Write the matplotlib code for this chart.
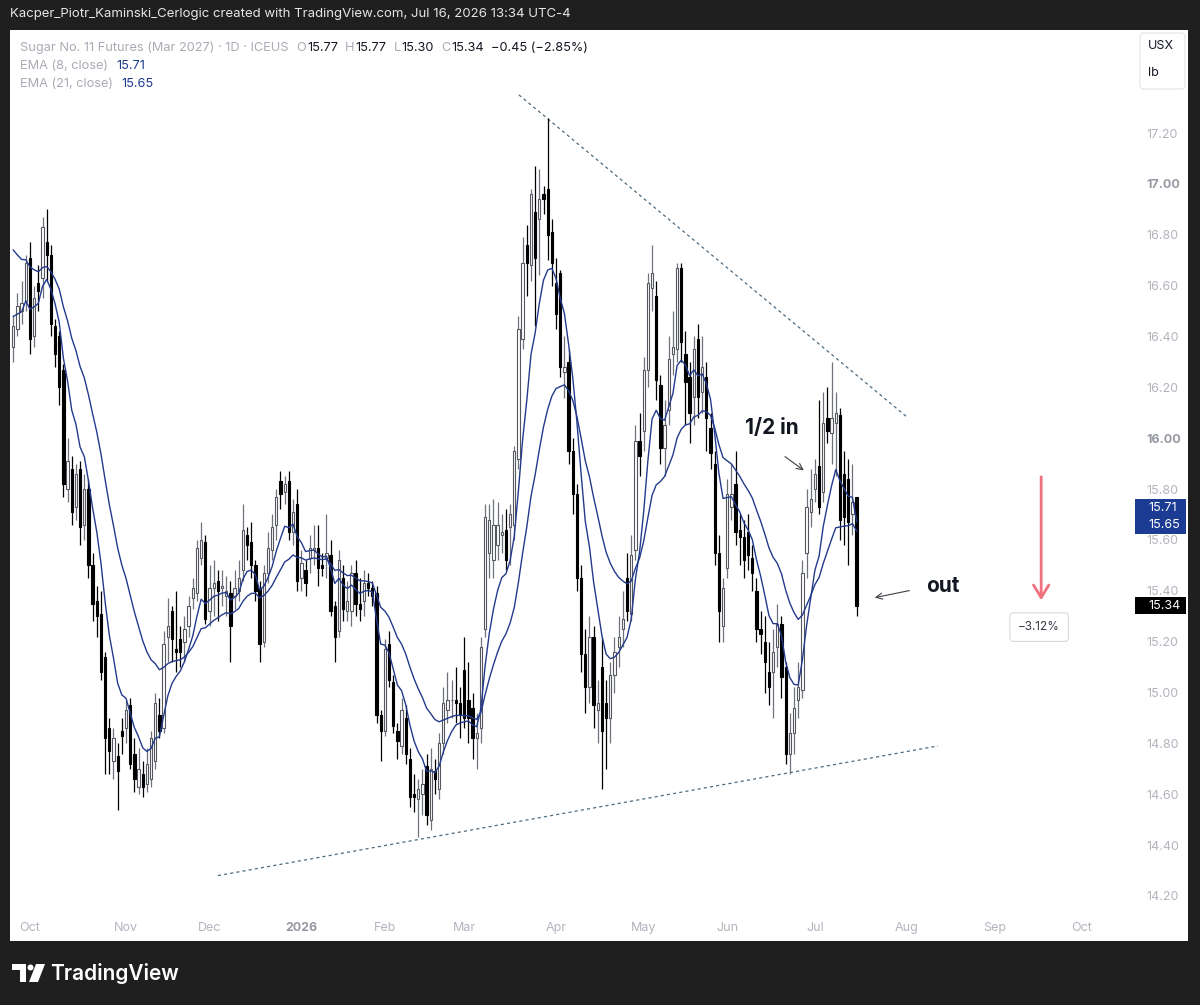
import numpy as np
import matplotlib
matplotlib.use("Agg")
import matplotlib.pyplot as plt
from matplotlib.patches import Rectangle, FancyBboxPatch, Polygon, Circle

plt.rcParams['font.family'] = ['Inter', 'DejaVu Sans']

W, H = 1200, 1005

# velas diarias, una por sesion (barra 0 = finales de sep 2025, ultima = 16 jul 2026)
opens = [
    16.36, 16.43, 16.50, 16.54, 16.71, 16.40, 16.61, 16.63, 16.77, 16.72,
    16.44, 16.40, 16.27, 15.80, 15.88, 15.73, 15.88, 15.66, 15.80, 15.50,
    15.36, 15.31, 15.14, 14.86, 14.73, 14.75, 14.85, 14.86, 14.95, 14.76,
    14.63, 14.68, 14.64, 14.66, 14.73, 14.91, 14.86, 15.22, 15.32, 15.17,
    15.21, 15.20, 15.26, 15.37, 15.39, 15.53, 15.59, 15.32, 15.41, 15.44,
    15.41, 15.38, 15.39, 15.38, 15.40, 15.48, 15.62, 15.59, 15.50, 15.41,
    15.20, 15.47, 15.56, 15.66, 15.83, 15.79, 15.83, 15.63, 15.74, 15.45,
    15.48, 15.53, 15.56, 15.57, 15.50, 15.53, 15.54, 15.34, 15.24, 15.45,
    15.32, 15.32, 15.47, 15.35, 15.36, 15.43, 15.41, 15.39, 14.91, 14.85,
    15.19, 15.04, 14.85, 14.79, 14.90, 14.74, 14.60, 14.58, 14.60, 14.71,
    14.50, 14.69, 14.62, 14.80, 14.93, 14.97, 14.97, 14.96, 15.09, 14.97,
    14.94, 14.82, 14.86, 15.25, 15.55, 15.52, 15.58, 15.62, 15.64, 15.65,
    15.66, 15.92, 16.39, 16.76, 16.68, 16.89, 16.86, 16.96, 16.98, 16.81,
    16.61, 16.65, 16.26, 16.30, 15.95, 15.78, 15.45, 15.15, 15.02, 15.22,
    14.93, 15.10, 14.96, 14.90, 15.07, 15.18, 15.25, 15.45, 15.31, 15.56,
    15.99, 16.03, 16.27, 16.59, 16.56, 16.21, 15.96, 16.11, 16.33, 16.35,
    16.67, 16.33, 16.24, 16.16, 16.39, 16.18, 16.24, 16.04, 15.90, 15.55,
    15.26, 15.49, 15.73, 15.82, 15.64, 15.61, 15.63, 15.53, 15.40, 15.25,
    15.20, 15.08, 15.08, 15.18, 15.27, 15.10, 14.76, 14.84, 14.97, 15.01,
    15.55, 15.71, 15.80, 15.89, 15.79, 16.08, 16.02, 16.06, 16.09, 15.86,
    15.84, 15.70, 15.77,
]
highs = [
    16.48, 16.57, 16.62, 16.72, 16.77, 16.60, 16.68, 16.87, 16.90, 16.76,
    16.47, 16.42, 16.29, 16.00, 15.93, 15.90, 15.91, 15.86, 15.84, 15.55,
    15.42, 15.40, 15.16, 14.90, 14.86, 14.80, 14.90, 14.97, 14.98, 14.82,
    14.78, 14.73, 14.78, 14.85, 15.00, 14.98, 15.24, 15.37, 15.34, 15.40,
    15.26, 15.30, 15.38, 15.45, 15.60, 15.67, 15.62, 15.50, 15.52, 15.48,
    15.48, 15.46, 15.44, 15.48, 15.52, 15.74, 15.65, 15.67, 15.52, 15.44,
    15.50, 15.63, 15.70, 15.80, 15.87, 15.85, 15.87, 15.76, 15.80, 15.56,
    15.52, 15.62, 15.66, 15.66, 15.55, 15.70, 15.60, 15.36, 15.56, 15.50,
    15.44, 15.50, 15.52, 15.45, 15.48, 15.47, 15.44, 15.42, 14.93, 15.21,
    15.24, 15.07, 14.88, 14.98, 14.95, 14.78, 14.68, 14.66, 14.70, 14.76,
    14.78, 14.74, 14.84, 15.02, 15.08, 15.05, 15.10, 15.02, 15.22, 15.12,
    15.00, 14.92, 15.22, 15.74, 15.74, 15.76, 15.75, 15.70, 15.72, 15.74,
    15.97, 16.48, 16.79, 16.84, 16.98, 17.07, 17.06, 16.99, 17.26, 16.86,
    16.71, 16.66, 16.40, 16.35, 16.00, 15.82, 15.50, 15.25, 15.30, 15.26,
    15.05, 15.22, 15.05, 15.12, 15.22, 15.30, 15.40, 15.55, 15.62, 16.05,
    16.10, 16.32, 16.65, 16.76, 16.62, 16.25, 16.15, 16.40, 16.50, 16.69,
    16.69, 16.42, 16.30, 16.40, 16.45, 16.40, 16.30, 16.10, 15.95, 15.62,
    15.45, 15.84, 15.90, 15.95, 15.70, 15.68, 15.70, 15.58, 15.45, 15.32,
    15.30, 15.20, 15.25, 15.35, 15.30, 15.12, 14.92, 15.02, 15.12, 15.52,
    15.80, 15.88, 15.92, 16.15, 16.18, 16.20, 16.30, 16.18, 16.12, 15.95,
    15.92, 15.90, 15.77,
]
lows = [
    16.30, 16.40, 16.45, 16.50, 16.33, 16.36, 16.50, 16.55, 16.62, 16.40,
    16.28, 16.13, 15.77, 15.75, 15.66, 15.68, 15.58, 15.60, 15.45, 15.28,
    15.22, 15.05, 14.68, 14.68, 14.66, 14.54, 14.76, 14.80, 14.70, 14.61,
    14.60, 14.59, 14.61, 14.63, 14.70, 14.82, 14.84, 15.12, 15.12, 15.08,
    15.10, 15.12, 15.22, 15.33, 15.36, 15.50, 15.27, 15.26, 15.30, 15.28,
    15.34, 15.30, 15.12, 15.33, 15.36, 15.44, 15.52, 15.45, 15.36, 15.12,
    15.18, 15.43, 15.52, 15.60, 15.72, 15.74, 15.60, 15.58, 15.40, 15.40,
    15.38, 15.47, 15.50, 15.42, 15.46, 15.45, 15.30, 15.12, 15.22, 15.28,
    15.28, 15.26, 15.30, 15.28, 15.30, 15.38, 15.34, 14.88, 14.73, 14.83,
    15.02, 14.84, 14.74, 14.76, 14.72, 14.55, 14.53, 14.43, 14.52, 14.48,
    14.46, 14.60, 14.58, 14.76, 14.88, 14.90, 14.88, 14.82, 14.86, 14.80,
    14.74, 14.70, 14.80, 15.22, 15.45, 15.45, 15.52, 15.55, 15.48, 15.50,
    15.60, 15.88, 16.35, 16.56, 16.62, 16.44, 16.64, 16.88, 16.70, 16.60,
    16.43, 16.24, 16.16, 15.90, 15.70, 15.40, 15.08, 14.92, 14.96, 14.86,
    14.80, 14.62, 14.70, 14.80, 15.00, 15.10, 15.18, 15.28, 15.28, 15.52,
    15.85, 15.95, 16.20, 16.50, 16.15, 15.90, 15.85, 16.05, 16.25, 16.30,
    16.30, 16.05, 15.98, 16.05, 16.08, 16.10, 15.95, 15.88, 15.50, 15.20,
    15.20, 15.45, 15.68, 15.58, 15.50, 15.45, 15.48, 15.40, 15.20, 15.15,
    15.00, 14.95, 14.90, 15.10, 14.98, 14.72, 14.68, 14.76, 14.90, 14.98,
    15.45, 15.65, 15.75, 15.70, 15.75, 15.98, 15.90, 15.85, 15.60, 15.58,
    15.50, 15.62, 15.30,
]
closes = [
    16.44, 16.52, 16.53, 16.69, 16.39, 16.55, 16.58, 16.83, 16.72, 16.45,
    16.33, 16.20, 15.82, 15.91, 15.71, 15.86, 15.65, 15.80, 15.50, 15.35,
    15.30, 15.08, 14.82, 14.77, 14.82, 14.69, 14.83, 14.93, 14.72, 14.66,
    14.70, 14.63, 14.72, 14.82, 14.96, 14.85, 15.19, 15.26, 15.21, 15.16,
    15.16, 15.25, 15.34, 15.41, 15.57, 15.60, 15.29, 15.41, 15.43, 15.40,
    15.42, 15.40, 15.26, 15.41, 15.45, 15.64, 15.58, 15.50, 15.40, 15.19,
    15.47, 15.57, 15.65, 15.77, 15.78, 15.82, 15.63, 15.71, 15.44, 15.51,
    15.43, 15.57, 15.57, 15.49, 15.49, 15.55, 15.32, 15.22, 15.52, 15.33,
    15.36, 15.47, 15.35, 15.33, 15.43, 15.41, 15.38, 14.91, 14.85, 15.17,
    15.05, 14.87, 14.81, 14.93, 14.76, 14.59, 14.59, 14.62, 14.64, 14.52,
    14.70, 14.66, 14.80, 14.96, 14.97, 14.97, 14.96, 14.91, 14.90, 14.90,
    14.82, 14.84, 15.18, 15.69, 15.68, 15.66, 15.66, 15.63, 15.52, 15.70,
    15.95, 16.43, 16.69, 16.69, 16.96, 16.71, 16.94, 16.94, 16.80, 16.69,
    16.49, 16.28, 16.28, 15.95, 15.78, 15.45, 15.15, 15.02, 15.22, 14.95,
    14.96, 14.85, 14.90, 15.07, 15.16, 15.22, 15.29, 15.32, 15.54, 15.99,
    15.93, 16.27, 16.61, 16.65, 16.23, 15.96, 16.05, 16.31, 16.36, 16.67,
    16.38, 16.22, 16.10, 16.35, 16.16, 16.28, 16.08, 15.94, 15.55, 15.32,
    15.41, 15.78, 15.78, 15.63, 15.61, 15.52, 15.54, 15.47, 15.25, 15.23,
    15.12, 15.02, 15.16, 15.27, 15.06, 14.76, 14.84, 14.94, 15.02, 15.47,
    15.73, 15.76, 15.86, 15.73, 16.06, 16.03, 16.08, 16.10, 15.68, 15.69,
    15.67, 15.75, 15.34,
]

# valor de las EMA justo antes de la primera barra visible
ema8_seed = 16.49
ema21_seed = 16.77

month_bars = [4, 27, 47, 69, 89, 108, 130, 151, 171, 192, 214, 235, 256]
month_labels = ["Oct", "Nov", "Dec", "2026", "Feb", "Mar", "Apr", "May", "Jun", "Jul", "Aug", "Sep", "Oct"]
price_ticks = [14.20, 14.40, 14.60, 14.80, 15.00, 15.20, 15.40, 15.60, 15.80,
               16.00, 16.20, 16.40, 16.60, 16.80, 17.00, 17.20]

# lineas de tendencia dibujadas a mano (barra, precio)
res_x = [121.1, 214.3]
res_y = [17.35, 16.08]
sup_x = [49.0, 221.5]
sup_y = [14.28, 14.79]


def ema(values, span, seed):
    alpha = 2 / (span + 1)
    out = []
    prev = seed
    for v in values:
        prev = prev + alpha * (v - prev)
        out.append(prev)
    return np.array(out)


o = np.array(opens)
h = np.array(highs)
l = np.array(lows)
c = np.array(closes)
x = np.arange(len(c))
up = c >= o

fig = plt.figure(figsize=(W / 100, H / 100), dpi=100)
fig.patch.set_facecolor('#1f1f1f')

bg = fig.add_axes([0, 0, 1, 1], zorder=0)
bg.set_xlim(0, W)
bg.set_ylim(H, 0)
bg.axis('off')
bg.add_patch(Rectangle((10, 30), 1178, 911, fc='white', ec='none'))

ax = fig.add_axes([10 / W, 1 - 912 / H, 1118 / W, 882 / H], zorder=1)
ax.set_facecolor('none')
ax.set_xlim(-0.79, 267.0)
ax.set_ylim(14.137, 17.605)
for s in ax.spines.values():
    s.set_visible(False)

# velas
ax.vlines(x[up], l[up], h[up], color='#6f727b', lw=0.9, zorder=2)
ax.vlines(x[~up], l[~up], h[~up], color='#000000', lw=0.9, zorder=2)
ax.bar(x[up], c[up] - o[up], bottom=o[up], width=0.55, facecolor='white',
       edgecolor='#555861', lw=0.8, zorder=3)
ax.bar(x[~up], o[~up] - c[~up], bottom=c[~up], width=0.55, facecolor='black',
       edgecolor='black', lw=0.8, zorder=3)

ax.plot(x, ema(closes, 21, ema21_seed), color='#233a8c', lw=1.0, zorder=4)
ax.plot(x, ema(closes, 8, ema8_seed), color='#233a8c', lw=1.0, zorder=4)

ax.plot(res_x, res_y, color='#4d6b80', lw=0.9, ls=(0, (2.5, 2.5)), zorder=1)
ax.plot(sup_x, sup_y, color='#4d6b80', lw=0.9, ls=(0, (2.5, 2.5)), zorder=1)

# ejes
ax.yaxis.tick_right()
ax.set_yticks(price_ticks)
ax.set_yticklabels([f"{p:.2f}" for p in price_ticks])
ax.tick_params(axis='y', length=0, pad=13.5, labelsize=9, labelcolor='#b2b5be')
ax.set_xticks(month_bars)
ax.set_xticklabels(month_labels)
ax.tick_params(axis='x', length=0, pad=7, labelsize=9, labelcolor='#b2b5be')
for lab in ax.get_yticklabels():
    if lab.get_text() in ("16.00", "17.00"):
        lab.set_fontweight('bold')
        lab.set_color('#9598a1')
for lab in ax.get_xticklabels():
    if lab.get_text() == "2026":
        lab.set_fontweight('bold')
        lab.set_color('#9598a1')

# anotaciones
ax.text(181.7, 16.04, "1/2 in", fontsize=15, fontweight='bold', color='#131722',
        ha='center', va='center', zorder=5)
ax.annotate("", xy=(189.9, 15.867), xytext=(184.3, 15.934),
            arrowprops=dict(arrowstyle='->,head_length=0.45,head_width=0.22', color='#3c3f46', lw=0.8))
ax.text(222.7, 15.42, "out", fontsize=15, fontweight='bold', color='#131722',
        ha='center', va='center', zorder=5)
ax.annotate("", xy=(205.7, 15.371), xytext=(215.3, 15.403),
            arrowprops=dict(arrowstyle='->,head_length=0.45,head_width=0.22', color='#3c3f46', lw=0.8))
ax.annotate("", xy=(246.2, 15.352), xytext=(246.2, 15.859),
            arrowprops=dict(arrowstyle='->,head_length=0.9,head_width=0.55', color='#f0707f', lw=2.0))
ax.text(245.7, 15.257, "\u22123.12%", fontsize=8.5, color='#363a45', ha='center', va='center',
        bbox=dict(boxstyle='round,pad=0.7,rounding_size=0.3', fc='white', ec='#d6d8de', lw=0.8))

# capa en pixeles para textos de la interfaz
ov = fig.add_axes([0, 0, 1, 1], zorder=3)
ov.set_xlim(0, W)
ov.set_ylim(H, 0)
ov.axis('off')

fig.canvas.draw()
renderer = fig.canvas.get_renderer()


def row(x0, y0, parts, size):
    xx = x0
    for txt, col, gap in parts:
        xx += gap
        t = ov.text(xx, y0, txt, fontsize=size, color=col, ha='left', va='center')
        xx += t.get_window_extent(renderer=renderer).width


ov.text(10, 14, "Kacper_Piotr_Kaminski_Cerlogic created with TradingView.com, Jul 16, 2026 13:34 UTC-4",
        fontsize=9.5, color='#e6e6e6', ha='left', va='center')

gris = '#a9acb5'
negro = '#131722'
azul = '#1e3a8f'
row(20, 48, [("Sugar No. 11 Futures (Mar 2027) \u00b7 1D \u00b7 ICEUS", gris, 0),
             ("O", gris, 8), ("15.77", negro, 1), ("H", gris, 7), ("15.77", negro, 1),
             ("L", gris, 7), ("15.30", negro, 1), ("C", gris, 7), ("15.34", negro, 1),
             ("\u22120.45 (\u22122.85%)", negro, 7)], 9.2)
row(20, 66, [("EMA (8, close)", gris, 0), ("15.71", azul, 8)], 9.2)
row(20, 84, [("EMA (21, close)", gris, 0), ("15.65", azul, 8)], 9.2)

ov.add_patch(FancyBboxPatch((1140, 33), 45, 56, boxstyle='round,pad=0,rounding_size=4',
                            fc='white', ec='#e0e3eb', lw=0.8))
ov.text(1148, 46, "USX", fontsize=9, color=negro, ha='left', va='center')
ov.text(1148, 73, "lb", fontsize=9, color=negro, ha='left', va='center')

ov.add_patch(Rectangle((1135, 499), 51, 35, fc='#1c3c94', ec='none'))
ov.text(1148, 508, "15.71", fontsize=9, color='white', ha='left', va='center')
ov.text(1148, 525, "15.65", fontsize=9, color='white', ha='left', va='center')
ov.add_patch(Rectangle((1135, 597), 51, 17, fc='#000000', ec='none'))
ov.text(1148, 605.5, "15.34", fontsize=9, color='white', ha='left', va='center')

# logo
ov.add_patch(Polygon([(12, 964), (26, 964), (26, 982), (20, 982), (20, 970), (12, 970)],
                     closed=True, fc='white', ec='none'))
ov.add_patch(Circle((30.5, 967.5), 3.0, fc='white', ec='none'))
ov.add_patch(Polygon([(36, 964), (45, 964), (38, 982), (29, 982)], closed=True, fc='white', ec='none'))
ov.text(50, 973, "TradingView", fontsize=15, fontweight='semibold', color='white', ha='left', va='center')

fig.savefig("out.png", dpi=100, facecolor=fig.get_facecolor())
